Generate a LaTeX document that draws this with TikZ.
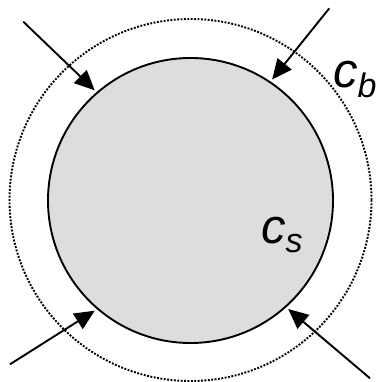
\documentclass[tikz,border=0pt]{standalone}
\usepackage{fontspec}
\setmainfont{Liberation Sans}
\usetikzlibrary{arrows.meta}
\definecolor{cellgray}{HTML}{DDDDDD}
\tikzset{
  arr/.style={line width=1.9pt,-{Triangle[length=20pt,width=18pt]}},
  lbl/.style={font=\fontsize{49}{56}\selectfont\itshape,inner sep=0pt,anchor=base west},
}
\newcommand{\subtxt}[1]{\raisebox{-0.2em}{\fontsize{34}{38}\selectfont\itshape #1}}
\begin{document}
\begin{tikzpicture}[x=1pt,y=-1pt]
\useasboundingbox (0,0) rectangle (381,382);
\node[circle,draw,line width=1.9pt,dash pattern=on 1.9pt off 1.5pt,minimum size=362pt,inner sep=0pt] (b) at (190.5,200) {};
\node[circle,draw,line width=1.9pt,fill=cellgray,minimum size=285pt,inner sep=0pt,outer sep=3.5pt] (s) at (190.5,200.5) {};
\coordinate (p1) at (23.3,21.7);
\coordinate (p2) at (329.3,8.3);
\coordinate (p3) at (10,364.3);
\coordinate (p4) at (370,378.3);
\draw[arr] (p1) -- (s.131);
\draw[arr] (p2) -- (s.56);
\draw[arr] (p3) -- (s.229);
\draw[arr] (p4) -- (s.312);
\node[lbl] (cb) at (333,88) {c\subtxt{b}};
\node[lbl] (cs) at (261,243) {c\subtxt{s}};
\end{tikzpicture}
\end{document}
